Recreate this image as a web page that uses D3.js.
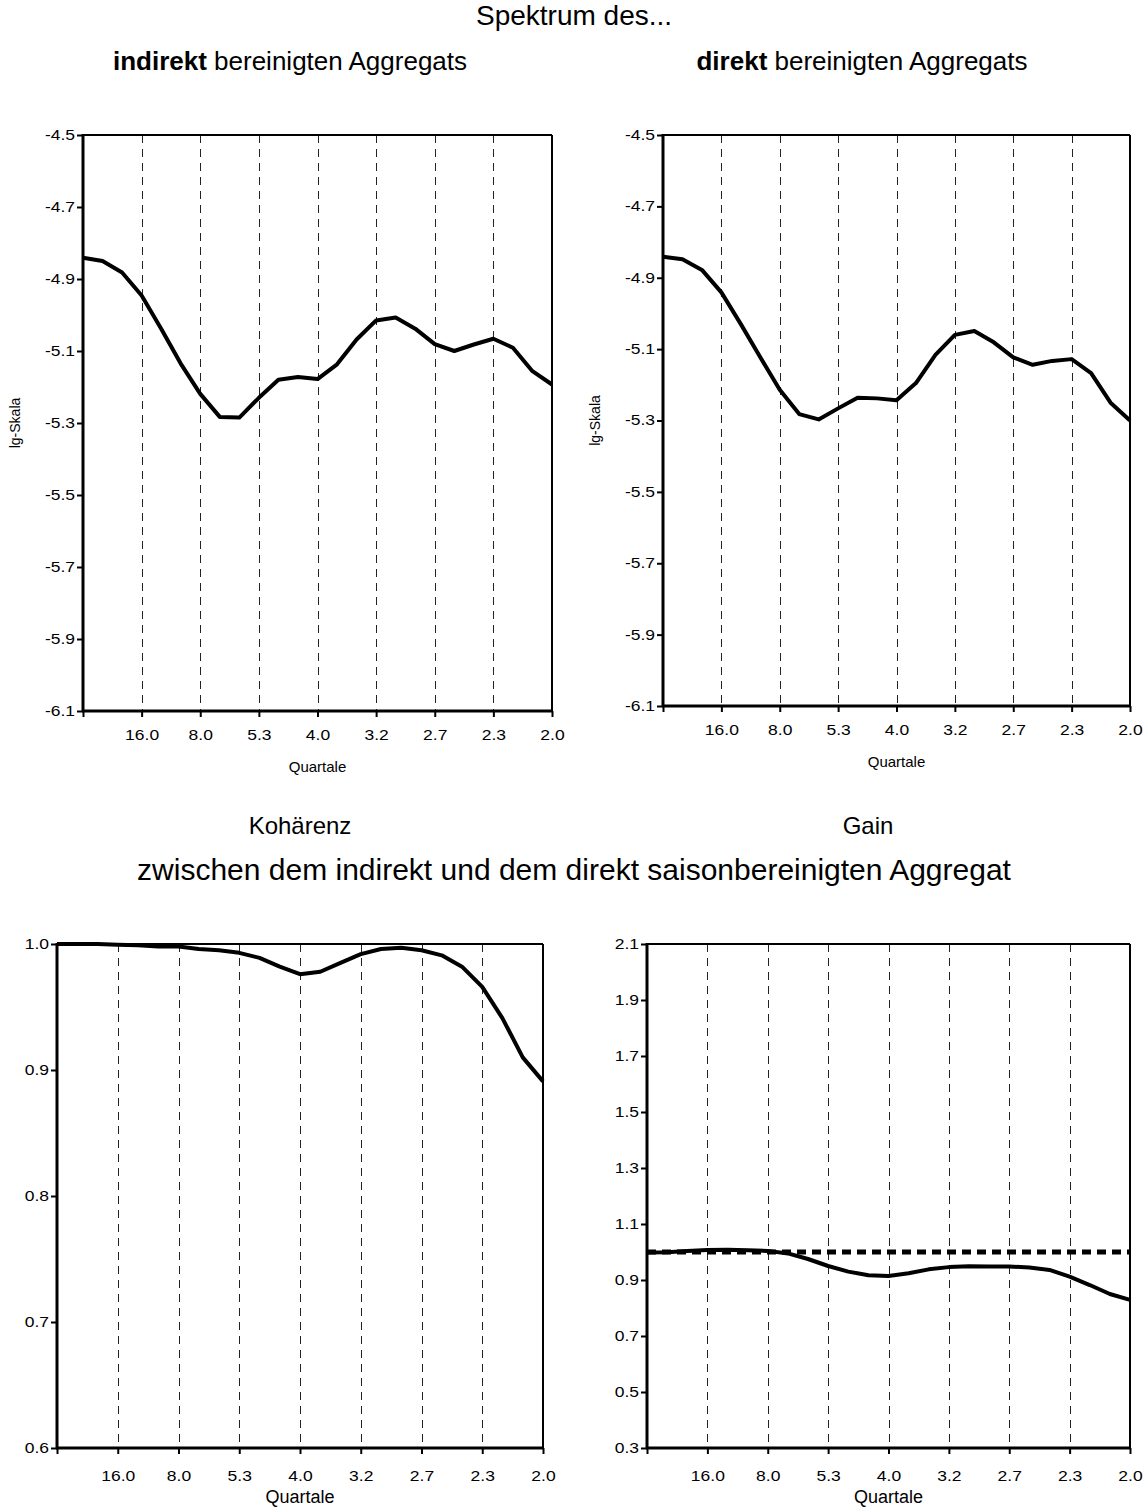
<!DOCTYPE html>
<html>
<head>
<meta charset="utf-8">
<script src="https://cdn.jsdelivr.net/npm/d3@7"></script>
<style>
  html, body { margin: 0; padding: 0; background: #fff; }
  svg { display: block; font-family: "Liberation Sans", Arial, sans-serif; }
</style>
</head>
<body>
<svg id="chart" width="1148" height="1508"></svg>
<script>
// ---------- data ----------
const periodLabels = ["", "16.0", "8.0", "5.3", "4.0", "3.2", "2.7", "2.3", "2.0"];
const periodTickIndex = [0, 3, 6, 9, 12, 15, 18, 21, 24];

const spectrumTicks = [-4.5, -4.7, -4.9, -5.1, -5.3, -5.5, -5.7, -5.9, -6.1];
const coherenceTicks = [1.0, 0.9, 0.8, 0.7, 0.6];
const gainTicks = [2.1, 1.9, 1.7, 1.5, 1.3, 1.1, 0.9, 0.7, 0.5, 0.3];

const spectrumIndirect = [-4.841, -4.850, -4.882, -4.946, -5.038, -5.135, -5.219, -5.283, -5.285,
  -5.230, -5.180, -5.172, -5.178, -5.137, -5.068, -5.015, -5.007, -5.038, -5.081, -5.100,
  -5.082, -5.066, -5.091, -5.156, -5.193];
const spectrumDirect = [-4.841, -4.848, -4.878, -4.941, -5.030, -5.123, -5.214, -5.282, -5.297,
  -5.266, -5.236, -5.238, -5.243, -5.195, -5.116, -5.060, -5.049, -5.081, -5.123, -5.144,
  -5.133, -5.128, -5.167, -5.250, -5.300];
const coherence = [1.000, 1.000, 1.000, 0.9995, 0.999, 0.998, 0.998, 0.996, 0.995, 0.993,
  0.989, 0.982, 0.976, 0.978, 0.985, 0.992, 0.996, 0.997, 0.995, 0.991,
  0.982, 0.966, 0.941, 0.910, 0.891];
const gain = [0.998, 0.999, 1.004, 1.007, 1.008, 1.006, 1.004, 0.995, 0.975, 0.950,
  0.930, 0.917, 0.914, 0.924, 0.938, 0.946, 0.949, 0.948, 0.948, 0.945,
  0.936, 0.912, 0.882, 0.850, 0.829];
const gainReference = [1.0, 1.0, 1.0, 1.0, 1.0, 1.0, 1.0, 1.0, 1.0, 1.0,
  1.0, 1.0, 1.0, 1.0, 1.0, 1.0, 1.0, 1.0, 1.0, 1.0,
  1.0, 1.0, 1.0, 1.0, 1.0];

// ---------- drawing ----------
const svg = d3.select("#chart");
const FONT = '"Liberation Sans", Arial, sans-serif';
const fmt = d => d3.format(".1f")(d).replace("\u2212", "-");
const STRETCH = 1.25;

function panel(cfg) {
  const g = svg.append("g");
  const x = d3.scaleLinear().domain([0, 24]).range([cfg.left, cfg.right]);
  const y = d3.scaleLinear().domain(cfg.domain).range([cfg.bottom, cfg.top]);

  // dashed vertical gridlines
  g.append("g").selectAll("line")
    .data(periodTickIndex.slice(1, -1))
    .join("line")
    .attr("x1", d => Math.round(x(d)) + 0.5).attr("x2", d => Math.round(x(d)) + 0.5)
    .attr("y1", cfg.top).attr("y2", cfg.bottom)
    .attr("stroke", "#222").attr("stroke-width", 1)
    .attr("stroke-dasharray", "8,6");

  // top and right border
  g.append("line").attr("x1", cfg.left).attr("x2", cfg.right)
    .attr("y1", cfg.top).attr("y2", cfg.top)
    .attr("stroke", "#000").attr("stroke-width", 2);
  g.append("line").attr("x1", cfg.right).attr("x2", cfg.right)
    .attr("y1", cfg.top).attr("y2", cfg.bottom)
    .attr("stroke", "#000").attr("stroke-width", 2);

  // y axis
  const yAxis = d3.axisLeft(y).tickValues(cfg.yTicks)
    .tickFormat(fmt).tickSize(6).tickPadding(2);
  const ya = g.append("g").attr("transform", `translate(${cfg.left},0)`).call(yAxis);
  ya.select(".domain").attr("stroke-width", 3).attr("d", `M0,${cfg.top - 1}V${cfg.bottom + 1}`);
  ya.selectAll(".tick line").attr("stroke-width", 2);
  ya.selectAll(".tick text").attr("font-size", cfg.tickSize).attr("font-family", FONT).attr("fill", "#000")
    .attr("x", -8 / STRETCH).attr("transform", `scale(${STRETCH},1)`);

  // x axis
  const xAxis = d3.axisBottom(x).tickValues(periodTickIndex)
    .tickFormat((d, i) => periodLabels[i]).tickSize(6).tickPadding(cfg.xPad);
  const xa = g.append("g").attr("transform", `translate(0,${cfg.bottom})`).call(xAxis);
  xa.select(".domain").attr("stroke-width", 3).attr("d", `M${cfg.left - 1},0H${cfg.right + 1}`);
  xa.selectAll(".tick line").attr("stroke-width", 2);
  xa.selectAll(".tick text").attr("font-size", cfg.tickSize).attr("font-family", FONT).attr("fill", "#000")
    .attr("transform", `scale(${STRETCH},1)`);

  // x label
  g.append("text").attr("x", (cfg.left + cfg.right) / 2).attr("y", cfg.xLabelY)
    .attr("text-anchor", "middle").attr("font-size", cfg.xLabelSize).attr("font-family", FONT)
    .text("Quartale");

  // y label
  if (cfg.yLabel) {
    g.append("text")
      .attr("transform", `translate(${cfg.yLabelX},${(cfg.top + cfg.bottom) / 2}) rotate(-90)`)
      .attr("text-anchor", "middle").attr("font-size", 14).attr("font-family", FONT)
      .text(cfg.yLabel);
  }

  const line = d3.line().x((d, i) => x(i)).y(d => y(d));

  if (cfg.reference) {
    g.append("path").datum(cfg.reference).attr("d", line)
      .attr("fill", "none").attr("stroke", "#000").attr("stroke-width", 5)
      .attr("stroke-dasharray", "9,6");
  }
  g.append("path").datum(cfg.values).attr("d", line)
    .attr("fill", "none").attr("stroke", "#000").attr("stroke-width", 4)
    .attr("stroke-linejoin", "round");
}

panel({ left: 83, right: 552, top: 135, bottom: 711, domain: [-6.1, -4.5],
  yTicks: spectrumTicks, values: spectrumIndirect, yLabel: "lg-Skala", yLabelX: 20,
  tickSize: 14, xPad: 13, xLabelY: 772, xLabelSize: 15 });
panel({ left: 663, right: 1130, top: 135, bottom: 706, domain: [-6.1, -4.5],
  yTicks: spectrumTicks, values: spectrumDirect, yLabel: "lg-Skala", yLabelX: 600,
  tickSize: 14, xPad: 13, xLabelY: 767, xLabelSize: 15 });
panel({ left: 57, right: 543, top: 944, bottom: 1448, domain: [0.6, 1.0],
  yTicks: coherenceTicks, values: coherence, yLabel: null,
  tickSize: 14, xPad: 17, xLabelY: 1503, xLabelSize: 18 });
panel({ left: 647, right: 1130, top: 944, bottom: 1448, domain: [0.3, 2.1],
  yTicks: gainTicks, values: gain, reference: gainReference, yLabel: null,
  tickSize: 14, xPad: 17, xLabelY: 1503, xLabelSize: 18 });

// titles
function title(txt, x, y, size, parts) {
  const t = svg.append("text").attr("x", x).attr("y", y).attr("text-anchor", "middle")
    .attr("font-size", size).attr("font-family", FONT).attr("dominant-baseline", "middle");
  if (parts) {
    parts.forEach(p => t.append("tspan").attr("font-weight", p.bold ? "bold" : "normal").text(p.t));
  } else t.text(txt);
}
title("Spektrum des...", 574, 18, 28);
title(null, 290, 63, 26, [{ t: "indirekt", bold: true }, { t: " bereinigten Aggregats" }]);
title(null, 862, 63, 26, [{ t: "direkt", bold: true }, { t: " bereinigten Aggregats" }]);
title("Kohärenz", 300, 828, 24);
title("Gain", 868, 828, 24);
title("zwischen dem indirekt und dem direkt saisonbereinigten Aggregat", 574, 872, 30);
</script>
</body>
</html>
